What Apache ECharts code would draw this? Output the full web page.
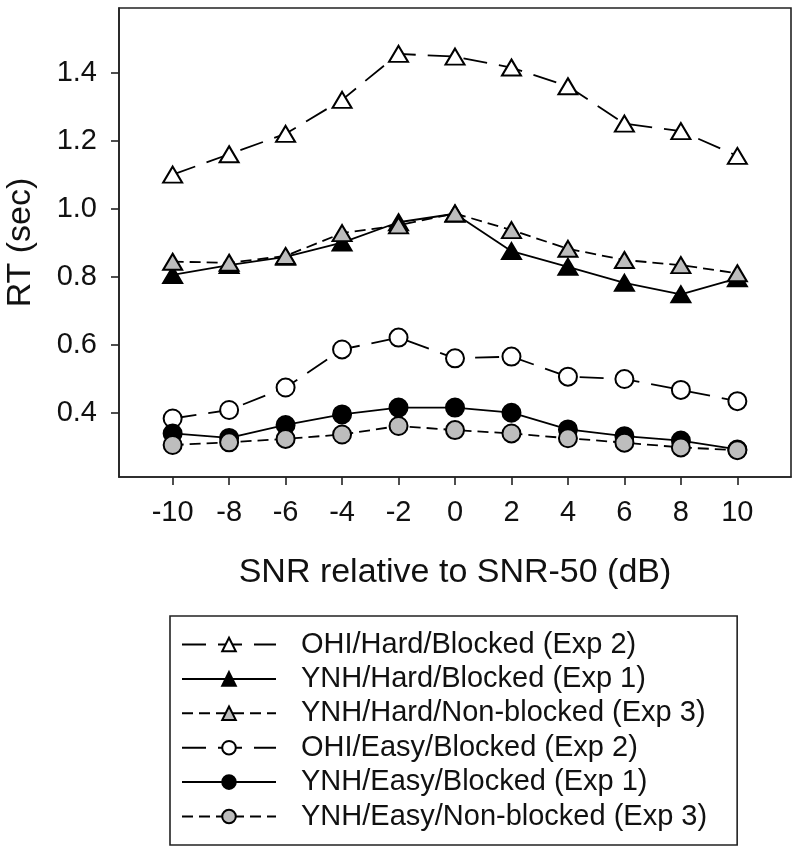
<!DOCTYPE html>
<html>
<head>
<meta charset="utf-8">
<script src="https://cdn.jsdelivr.net/npm/echarts@6/dist/echarts.min.js"></script>
<style>
html,body{margin:0;padding:0;background:#fff;}
#chart{width:800px;height:855px;}
</style>
</head>
<body>
<div id="chart"></div>
<script>
// ---- data ----
const snr = [-10, -8, -6, -4, -2, 0, 2, 4, 6, 8, 10];
const yTicks = [0.4, 0.6, 0.8, 1.0, 1.2, 1.4];
const seriesNames = [
  'OHI/Hard/Blocked (Exp 2)',
  'YNH/Hard/Blocked (Exp 1)',
  'YNH/Hard/Non-blocked (Exp 3)',
  'OHI/Easy/Blocked (Exp 2)',
  'YNH/Easy/Blocked (Exp 1)',
  'YNH/Easy/Non-blocked (Exp 3)'
];
const ohiHardBlocked   = [1.10, 1.16, 1.22, 1.32, 1.455, 1.447, 1.415, 1.36, 1.25, 1.228, 1.155];
const ynhHardBlocked   = [0.805, 0.834, 0.858, 0.90, 0.96, 0.985, 0.875, 0.829, 0.782, 0.748, 0.795];
const ynhHardNonBlock  = [0.844, 0.841, 0.861, 0.928, 0.951, 0.986, 0.937, 0.882, 0.849, 0.834, 0.81];
const ohiEasyBlocked   = [0.383, 0.408, 0.474, 0.586, 0.621, 0.56, 0.565, 0.506, 0.499, 0.467, 0.434];
const ynhEasyBlocked   = [0.339, 0.326, 0.364, 0.395, 0.415, 0.415, 0.40, 0.351, 0.331, 0.318, 0.292];
const ynhEasyNonBlock  = [0.305, 0.313, 0.323, 0.336, 0.361, 0.349, 0.339, 0.325, 0.312, 0.298, 0.29];

// ---- styling ----
const FONT = '"Liberation Sans", Arial, sans-serif';
const GRAY = '#bdbdbd';
const LONG_DASH = [24, 12];
const MED_DASH = [11, 6];

function pairs(vals) { return snr.map((x, i) => [x, vals[i]]); }

function mk(name, vals, symbol, fill, dash) {
  const tri = symbol === 'triangle';
  return {
    name: name,
    type: 'line',
    data: pairs(vals),
    symbol: symbol,
    symbolSize: tri ? [19, 16] : 18,
    showSymbol: true,
    lineStyle: { color: '#000', width: 1.8, type: dash },
    itemStyle: { color: fill, borderColor: '#000', borderWidth: 2, opacity: 1 },
    emphasis: { disabled: true },
    z: 3
  };
}

const chart = echarts.init(document.getElementById('chart'), null, { renderer: 'canvas' });
chart.setOption({
  animation: false,
  backgroundColor: '#fff',
  grid: {
    left: 119, right: 9, top: 8, bottom: 378,
    containLabel: false,
    outerBoundsMode: 'none',
    show: true, borderColor: '#222', borderWidth: 1.6, backgroundColor: 'transparent'
  },
  xAxis: {
    type: 'value',
    min: -11.9, max: 11.9,
    name: 'SNR relative to SNR-50 (dB)',
    nameLocation: 'middle',
    nameGap: 79,
    nameTextStyle: { fontFamily: FONT, fontSize: 34, color: '#111' },
    axisLine: { show: true, onZero: false, lineStyle: { color: '#222', width: 1.6 } },
    axisTick: { show: true, inside: false, length: 8, lineStyle: { color: '#222', width: 1.6 }, customValues: snr },
    axisLabel: { fontFamily: FONT, fontSize: 29, color: '#111', margin: 21, customValues: snr,
      formatter: v => String(v) },
    splitLine: { show: false }
  },
  yAxis: {
    type: 'value',
    min: 0.211, max: 1.59,
    name: 'RT (sec)',
    nameLocation: 'middle',
    nameGap: 81,
    nameTextStyle: { fontFamily: FONT, fontSize: 34, color: '#111' },
    axisLine: { show: true, onZero: false, lineStyle: { color: '#222', width: 1.6 } },
    axisTick: { show: true, inside: false, length: 8, lineStyle: { color: '#222', width: 1.6 }, customValues: yTicks },
    axisLabel: { fontFamily: FONT, fontSize: 29, color: '#111', margin: 22, customValues: yTicks,
      formatter: v => v.toFixed(1) },
    splitLine: { show: false }
  },
  legend: {
    orient: 'vertical',
    left: 170,
    top: 616,
    padding: [14, 30, 14, 11],
    itemGap: 5.4,
    itemWidth: 94,
    itemHeight: 17,
    borderColor: '#222',
    borderWidth: 1.6,
    backgroundColor: '#fff',
    selectedMode: false,
    textStyle: { fontFamily: FONT, fontSize: 29, color: '#111', padding: [0, 0, 0, 20] },
    data: seriesNames
  },
  series: [
    mk(seriesNames[0], ohiHardBlocked, 'triangle', '#fff', LONG_DASH),
    mk(seriesNames[1], ynhHardBlocked, 'triangle', '#000', 'solid'),
    mk(seriesNames[2], ynhHardNonBlock, 'triangle', GRAY, MED_DASH),
    mk(seriesNames[3], ohiEasyBlocked, 'circle', '#fff', LONG_DASH),
    mk(seriesNames[4], ynhEasyBlocked, 'circle', '#000', 'solid'),
    mk(seriesNames[5], ynhEasyNonBlock, 'circle', GRAY, MED_DASH)
  ]
});
</script>
</body>
</html>
